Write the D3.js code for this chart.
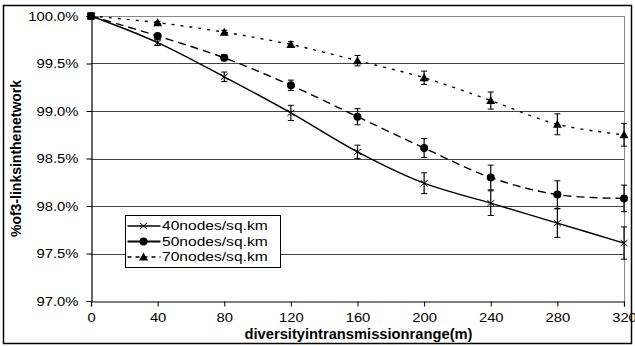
<!DOCTYPE html>
<html lang="en">
<head>
<meta charset="utf-8">
<title>3-links vs diversity in transmission range</title>
<script src="https://cdnjs.cloudflare.com/ajax/libs/d3/7.8.5/d3.min.js"></script>
<style>
  body { margin: 0; background: #fff; }
  svg text { font-family: "Liberation Sans", Arial, sans-serif; }
</style>
</head>
<body>
<div id="chart"></div>
<script>
// data
const ranges = [0, 40, 80, 120, 160, 200, 240, 280, 320];
const yTicks = [97.0, 97.5, 98.0, 98.5, 99.0, 99.5, 100.0];
const seriesNames = ["40nodes/sq.km", "50nodes/sq.km", "70nodes/sq.km"];
const nodes40 = [100, 99.72, 99.36, 98.98, 98.57, 98.24, 98.03, 97.82, 97.61];
const err40 = [0, 0.03, 0.05, 0.08, 0.07, 0.11, 0.13, 0.15, 0.17];
const nodes50 = [100, 99.79, 99.56, 99.27, 98.94, 98.61, 98.30, 98.12, 98.08];
const err50 = [0, 0.02, 0.03, 0.055, 0.085, 0.10, 0.13, 0.145, 0.14];
const nodes70 = [100, 99.93, 99.83, 99.70, 99.53, 99.35, 99.11, 98.86, 98.75];
const err70 = [0, 0.01, 0.02, 0.03, 0.055, 0.07, 0.09, 0.11, 0.12];

const width = 635, height = 346;
const plot = {left: 91, right: 624, top: 16, bottom: 301};

const svg = d3.select("#chart").append("svg")
  .attr("width", width).attr("height", height);

// the original text is drawn a bit wider than plain Arial
function widen(sel, s) {
  sel.each(function() {
    const t = d3.select(this);
    const tx = +t.attr("x") || 0;
    t.attr("x", 0).attr("transform", `translate(${tx},0) scale(${s},1)`);
  });
}

// outer frame
svg.append("rect")
  .attr("x", 3.5).attr("y", 5.5).attr("width", 628).attr("height", 338)
  .attr("fill", "none").attr("stroke", "#000").attr("stroke-width", 1.5);

const x = d3.scaleLinear().domain([0, 320]).range([plot.left, plot.right]);
const y = d3.scaleLinear().domain([97, 100]).range([plot.bottom, plot.top]);

// gridlines
svg.append("g").selectAll("line")
  .data(yTicks.slice(1))
  .join("line")
    .attr("x1", plot.left).attr("x2", plot.right)
    .attr("y1", d => Math.round(y(d)) + 0.5).attr("y2", d => Math.round(y(d)) + 0.5)
    .attr("stroke", d => d === 100 ? "#888" : "#444").attr("stroke-width", 1);

// right border of plot area
svg.append("line")
  .attr("x1", plot.right + 0.5).attr("x2", plot.right + 0.5)
  .attr("y1", plot.top).attr("y2", plot.bottom)
  .attr("stroke", "#888");

// axes
const yAxis = d3.axisLeft(y).tickValues(yTicks).tickSize(5).tickPadding(8)
  .tickFormat(d => d.toFixed(1) + "%");
const xAxis = d3.axisBottom(x).tickValues(ranges).tickSize(5).tickPadding(6);

const gy = svg.append("g").attr("transform", `translate(${plot.left + 0.5},0)`).call(yAxis);
const gx = svg.append("g").attr("transform", `translate(0,${plot.bottom + 0.5})`).call(xAxis);
[gx, gy].forEach(g => {
  g.select(".domain").attr("stroke", "#000").attr("stroke-width", 1.2);
  g.selectAll(".tick line").attr("stroke", "#000");
  g.selectAll("text").attr("font-size", 13).attr("fill", "#000")
    .attr("font-family", "'Liberation Sans', Arial, sans-serif");
});
widen(gy.selectAll("text"), 1.14);
widen(gx.selectAll("text"), 1.14);

// axis titles
svg.append("text")
  .attr("x", (plot.left + plot.right) / 2 + 1).attr("y", 339)
  .attr("text-anchor", "middle").attr("font-size", 14).attr("font-weight", "bold")
  .attr("textLength", 228).attr("lengthAdjust", "spacingAndGlyphs")
  .text("diversityintransmissionrange(m)");
svg.append("text")
  .attr("transform", `translate(21,${(plot.top + plot.bottom) / 2}) rotate(-90)`)
  .attr("text-anchor", "middle").attr("font-size", 14).attr("font-weight", "bold")
  .text("%of3-linksinthenetwork");

const series = [
  {name: seriesNames[0], values: nodes40, err: err40, dash: null, legendDash: null, marker: "cross"},
  {name: seriesNames[1], values: nodes50, err: err50, dash: "8,5", legendDash: null, marker: "circle"},
  {name: seriesNames[2], values: nodes70, err: err70, dash: "3,6", legendDash: "4,4", marker: "triangle"}
];

const line = d3.line()
  .x((d, i) => x(ranges[i]))
  .y(d => y(d))
  .curve(d3.curveCardinal.tension(0));

function drawMarker(g, type, cx, cy) {
  if (type === "cross") {
    g.append("path")
      .attr("d", `M${cx - 3.5},${cy - 3}L${cx + 3.5},${cy + 3}M${cx - 3.5},${cy + 3}L${cx + 3.5},${cy - 3}`)
      .attr("stroke", "#000").attr("stroke-width", 1);
  } else if (type === "circle") {
    g.append("circle").attr("cx", cx).attr("cy", cy).attr("r", 4).attr("fill", "#000");
  } else {
    g.append("path")
      .attr("d", `M${cx},${cy - 4.5}L${cx + 4.5},${cy + 3.5}L${cx - 4.5},${cy + 3.5}Z`)
      .attr("fill", "#000");
  }
}

series.forEach(s => {
  const g = svg.append("g");
  g.append("path")
    .attr("d", line(s.values))
    .attr("fill", "none").attr("stroke", "#000").attr("stroke-width", 1.4)
    .attr("stroke-dasharray", s.dash);
  // error bars
  s.values.forEach((v, i) => {
    if (!s.err[i]) return;
    const cx = x(ranges[i]);
    const y1 = y(v + s.err[i]), y2 = y(v - s.err[i]);
    g.append("line").attr("x1", cx).attr("x2", cx).attr("y1", y1).attr("y2", y2)
      .attr("stroke", "#000").attr("stroke-width", 1.2);
    [y1, y2].forEach(yy => g.append("line")
      .attr("x1", cx - 3).attr("x2", cx + 3).attr("y1", yy).attr("y2", yy)
      .attr("stroke", "#000").attr("stroke-width", 1));
  });
  s.values.forEach((v, i) => {
    if (i === 0) {
      g.append("rect").attr("x", x(0) - 3.5).attr("y", y(v) - 3.5)
        .attr("width", 7).attr("height", 7).attr("fill", "#000");
    } else {
      drawMarker(g, s.marker, x(ranges[i]), y(v));
    }
  });
});

// legend
const legend = svg.append("g").attr("transform", "translate(125.5,215.5)");
legend.append("rect").attr("width", 155).attr("height", 52)
  .attr("fill", "#fff").attr("stroke", "#000").attr("stroke-width", 1);
series.forEach((s, i) => {
  const ly = 10.5 + i * 15.5;
  legend.append("line").attr("x1", 2).attr("x2", 35).attr("y1", ly).attr("y2", ly)
    .attr("stroke", "#000").attr("stroke-width", i === 1 ? 2 : 1.3)
    .attr("stroke-dasharray", s.legendDash);
  drawMarker(legend, s.marker, 18, ly);
  legend.append("text").attr("x", 36.5).attr("y", ly + 4.5)
    .attr("font-size", 13).text(s.name);
});
widen(legend.selectAll("text"), 1.2);
</script>
</body>
</html>
